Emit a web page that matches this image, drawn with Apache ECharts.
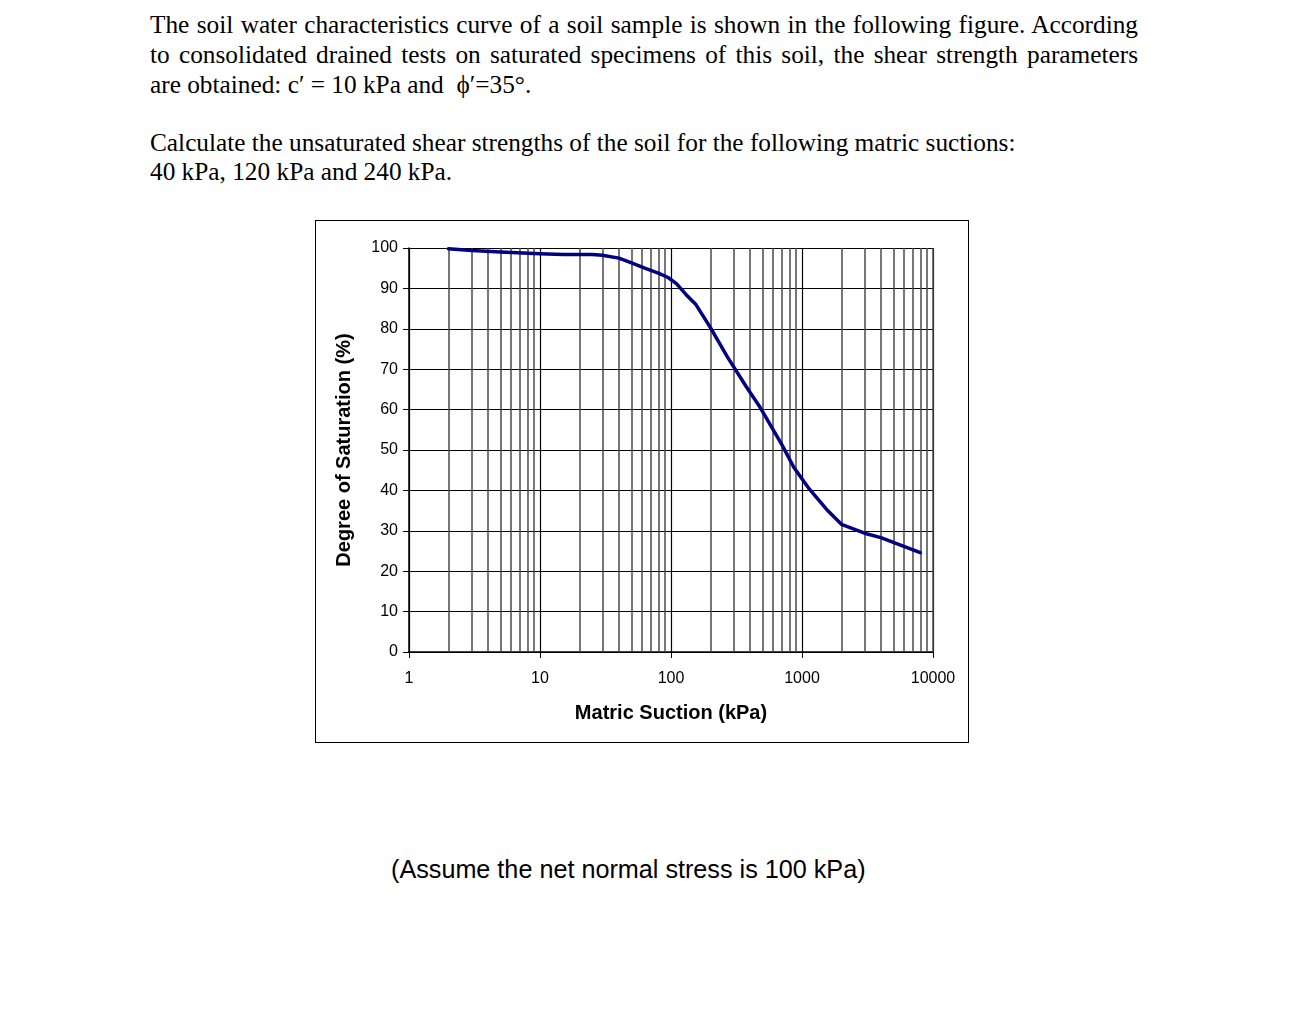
<!DOCTYPE html>
<html>
<head>
<meta charset="utf-8">
<script src="https://cdn.jsdelivr.net/npm/echarts@6/dist/echarts.min.js"></script>
<style>
  html, body { margin:0; padding:0; background:#fff; }
  body { width:1290px; height:1033px; position:relative; overflow:hidden; }
  .ln { position:absolute; left:150px; width:988px; font-family:"Liberation Serif","Times New Roman",serif; font-size:25.3px; line-height:30px; color:#000; white-space:nowrap; }
  .just { text-align:justify; text-align-last:justify; }
  #chartbox { position:absolute; left:315px; top:220px; width:652px; height:521px; border:1.5px solid #000; }
  #chart { width:652px; height:521px; }
  #note { position:absolute; left:391px; top:854px; font-family:"Liberation Sans",Arial,sans-serif; font-size:25.2px; line-height:30px; color:#000; white-space:nowrap; }
</style>
</head>
<body>
<div class="ln just" style="top:9px">The soil water characteristics curve of a soil sample is shown in the following figure. According</div>
<div class="ln just" style="top:39px">to consolidated drained tests on saturated specimens of this soil, the shear strength parameters</div>
<div class="ln" style="top:69px">are obtained: c′ = 10 kPa and &nbsp;ϕ′=35°.</div>
<div class="ln" style="top:127px">Calculate the unsaturated shear strengths of the soil for the following matric suctions:</div>
<div class="ln" style="top:156px">40 kPa, 120 kPa and 240 kPa.</div>
<div id="chartbox"><div id="chart"></div></div>
<div id="note">(Assume the net normal stress is 100 kPa)</div>
<script>
// Matric suction (kPa) and degree of saturation (%)
const suction = [2, 3, 5, 10, 15, 25, 30, 40, 50, 63, 80, 95, 110, 130, 155, 200, 270, 380, 480, 700, 870, 1140, 1570, 2000, 3000, 4000, 8000];
const saturation = [99.8, 99.4, 99.0, 98.6, 98.4, 98.4, 98.2, 97.5, 96.3, 95.0, 93.8, 92.7, 91.2, 88.5, 86.0, 80.3, 73.0, 65.4, 60.5, 51.4, 45.6, 40.3, 35.0, 31.6, 29.4, 28.3, 24.6];

// Axis tick labels
const xTicks = [1, 10, 100, 1000, 10000];
const yTicks = [0, 10, 20, 30, 40, 50, 60, 70, 80, 90, 100];

// Minor log grid positions (2..9 in each decade)
const minorGrid = [];
for (let d = 1; d < 10000; d *= 10) {
  for (let m = 2; m <= 9; m++) minorGrid.push(m * d);
}
minorGrid.push(10000);

const chart = echarts.init(document.getElementById('chart'), null, { renderer: 'canvas' });
const font = '"Liberation Sans", Arial, sans-serif';

chart.setOption({
  animation: false,
  grid: { left: 93, right: 35, top: 27, bottom: 90 },
  xAxis: {
    type: 'log', logBase: 10, min: 1, max: 10000,
    name: 'Matric Suction (kPa)', nameLocation: 'middle', nameGap: 51,
    nameTextStyle: { fontFamily: font, fontSize: 20, fontWeight: 'bold', color: '#000' },
    axisLine: { show: true, onZero: false, lineStyle: { color: '#000', width: 1.5 } },
    axisTick: { show: true, inside: false, length: 6, lineStyle: { color: '#000', width: 1 } },
    axisLabel: { fontFamily: font, fontSize: 16, color: '#000', margin: 19,
      formatter: v => xTicks.includes(Math.round(v)) ? String(Math.round(v)) : '' },
    splitLine: { show: true, lineStyle: { color: '#000', width: 1.2 } },
    minorTick: { show: false }, minorSplitLine: { show: false }
  },
  yAxis: {
    type: 'value', min: 0, max: 100, interval: 10,
    name: 'Degree of Saturation (%)', nameLocation: 'middle', nameGap: 55, nameRotate: 90,
    nameTextStyle: { fontFamily: font, fontSize: 20, fontWeight: 'bold', color: '#000' },
    axisLine: { show: true, lineStyle: { color: '#000', width: 1.5 } },
    axisTick: { show: true, inside: false, length: 6, lineStyle: { color: '#000', width: 1 } },
    axisLabel: { fontFamily: font, fontSize: 16, color: '#000', margin: 11,
      formatter: v => yTicks.includes(v) ? String(v) : '' },
    splitLine: { show: true, lineStyle: { color: '#000', width: 1.2 } }
  },
  series: [
    {
      type: 'line', data: [], z: 1, silent: true,
      markLine: {
        silent: true, symbol: ['none', 'none'], animation: false,
        label: { show: false },
        lineStyle: { type: 'solid', color: '#4a4a4a', width: 1.5 },
        emphasis: { disabled: true },
        data: minorGrid.map(v => ({ xAxis: v }))
      }
    },
    {
      type: 'line', z: 5,
      data: suction.map((s, i) => [s, saturation[i]]),
      showSymbol: false, symbol: 'none', smooth: false,
      lineStyle: { color: '#000080', width: 3.5, join: 'round', cap: 'round' }
    }
  ]
});
</script>
</body>
</html>
